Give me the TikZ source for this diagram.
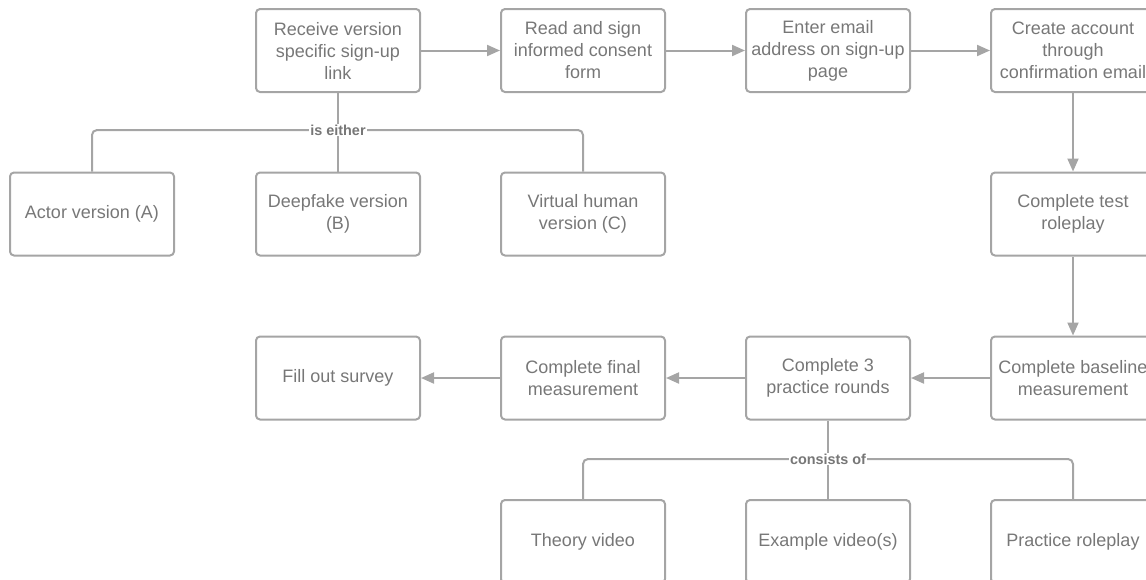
\documentclass[tikz,border=0pt]{standalone}
\usepackage{fontspec}
\setmainfont{Liberation Sans}
\usetikzlibrary{arrows.meta}
\definecolor{linegray}{HTML}{A5A5A5}
\definecolor{textgray}{HTML}{777777}
\begin{document}
\begin{tikzpicture}[x=1pt,y=-1pt,
  stepbox/.style={draw=linegray, line width=2pt, rounded corners=4pt, minimum width=164pt, minimum height=83pt, inner sep=0pt, align=center, text=textgray, font=\fontsize{18}{22}\selectfont},
  flow/.style={draw=linegray, line width=2pt, -{Triangle[length=13pt,width=11pt]}},
  branch/.style={draw=linegray, line width=2pt, rounded corners=5pt},
  tag/.style={fill=white, text=textgray, font=\bfseries\fontsize{14.4}{16}\selectfont, inner sep=1pt}]

\useasboundingbox (0,0) rectangle (1146,579);
\clip (0,0) rectangle (1146,579);

\node [stepbox] (link) at (338,50.5) {Receive version\\specific sign-up\\link};
\node [stepbox] (consent) at (583,50.5) {Read and sign\\informed consent\\form};
\node [stepbox] (email) at (828,50.5) {Enter email\\address on sign-up\\page};
\node [stepbox] (account) at (1073,50.5) {Create account\\through\\confirmation email};

\node [stepbox] (actor) at (92,214) {Actor version (A)};
\node [stepbox] (deepfake) at (338,214) {Deepfake version\\(B)};
\node [stepbox] (virtual) at (583,214) {Virtual human\\version (C)};
\node [stepbox] (test) at (1073,214) {Complete test\\roleplay};

\node [stepbox] (survey) at (338,378) {Fill out survey};
\node [stepbox] (final) at (583,378) {Complete final\\measurement};
\node [stepbox] (rounds) at (828,378) {Complete 3\\practice rounds};
\node [stepbox] (baseline) at (1073,378) {Complete baseline\\measurement};

\node [stepbox] (theory) at (583,541.5) {Theory video};
\node [stepbox] (example) at (828,541.5) {Example video(s)};
\node [stepbox] (practice) at (1073,541.5) {Practice roleplay};

\draw [flow] (link) -- (consent);
\draw [flow] (consent) -- (email);
\draw [flow] (email) -- (account);
\draw [flow] (account) -- (test);
\draw [flow] (test) -- (baseline);
\draw [flow] (baseline) -- (rounds);
\draw [flow] (rounds) -- (final);
\draw [flow] (final) -- (survey);

\coordinate (either) at (338,130);
\draw [branch] (actor.north) |- (either) -| (virtual.north);
\draw [branch] (link) -- (deepfake);
\node [tag] (eithertag) at (either) {is either};

\coordinate (consists) at (828,459);
\draw [branch] (theory.north) |- (consists) -| (practice.north);
\draw [branch] (rounds) -- (example);
\node [tag] (consiststag) at (consists) {consists of};

\end{tikzpicture}
\end{document}
